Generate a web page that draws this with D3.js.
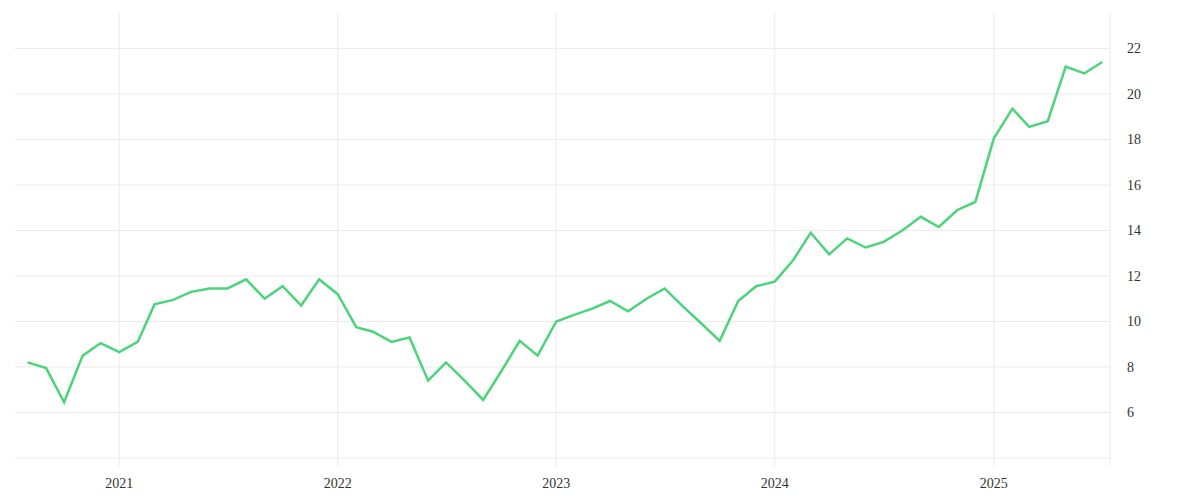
<!DOCTYPE html>
<html><head><meta charset="utf-8">
<script src="https://cdn.jsdelivr.net/npm/d3@7"></script>
<style>body{margin:0;background:#fff}</style></head>
<body><svg id="c" width="1200" height="500"></svg>
<script>
const startMonth = "2020-08";
const values = [8.2,7.95,6.45,8.5,9.05,8.65,9.1,10.75,10.95,11.3,11.45,11.45,11.85,11.0,11.55,10.7,11.85,11.2,9.75,9.55,9.1,9.3,7.4,8.2,7.4,6.55,7.8,9.15,8.5,10.0,10.3,10.55,10.9,10.45,11.0,11.45,10.65,9.9,9.15,10.9,11.55,11.75,12.7,13.9,12.95,13.65,13.25,13.5,14.0,14.6,14.15,14.9,15.25,18.05,19.35,18.55,18.8,21.2,20.9,21.4];
const yTicks = [6,8,10,12,14,16,18,20,22];
const xTicks = ["2021","2022","2023","2024","2025"];

const svg = d3.select("#c");
const p = d3.timeParse("%Y-%m");
const t0 = p(startMonth);
const data = values.map((v,i)=>({d:d3.timeMonth.offset(t0,i), v}));
const x = d3.scaleTime().domain([new Date(2020,6,11), new Date(2025,6,14)]).range([15,1110]);
const y = d3.scaleLinear().domain([4,23.6]).range([458,12]);
const g = svg.append("g");
const font = "'Liberation Serif', serif";
// horizontal grid
[4,...yTicks].forEach(v=>g.append("line").attr("x1",15).attr("x2",1110).attr("y1",y(v)).attr("y2",y(v)).attr("stroke","#ebebeb"));
// vertical grid
xTicks.forEach(t=>g.append("line").attr("x1",x(new Date(+t,0,1))).attr("x2",x(new Date(+t,0,1))).attr("y1",12).attr("y2",466).attr("stroke","#ebebeb"));
g.append("line").attr("x1",1110).attr("x2",1110).attr("y1",12).attr("y2",466).attr("stroke","#ebebeb");
// labels
yTicks.forEach(v=>svg.append("text").attr("x",1127).attr("y",y(v)+5).text(v).attr("font-family",font).attr("font-size",14).attr("fill","#333"));
xTicks.forEach(t=>svg.append("text").attr("x",x(new Date(+t,0,1))).attr("y",488).attr("text-anchor","middle").text(t).attr("font-family",font).attr("font-size",14).attr("fill","#333"));
svg.append("path").datum(data).attr("fill","none").attr("stroke","#4cd47a").attr("stroke-width",2.5)
  .attr("d",d3.line().x(d=>x(d.d)).y(d=>y(d.v)));
</script></body></html>
